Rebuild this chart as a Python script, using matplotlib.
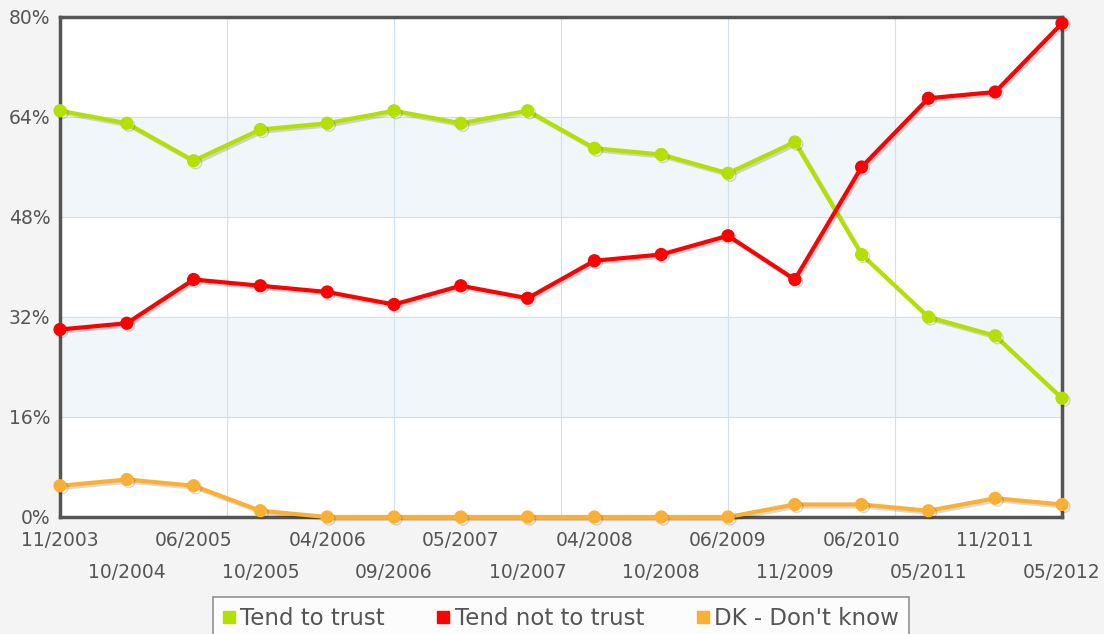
import matplotlib.pyplot as plt
import matplotlib.patheffects as pe

fechas = ['11/2003', '10/2004', '06/2005', '10/2005', '04/2006', '09/2006',
          '05/2007', '10/2007', '04/2008', '10/2008', '06/2009', '11/2009',
          '06/2010', '05/2011', '11/2011', '05/2012']
confia = [65, 63, 57, 62, 63, 65, 63, 65, 59, 58, 55, 60, 42, 32, 29, 19]
no_confia = [30, 31, 38, 37, 36, 34, 37, 35, 41, 42, 45, 38, 56, 67, 68, 79]
no_sabe = [5, 6, 5, 1, 0, 0, 0, 0, 0, 0, 0, 2, 2, 1, 3, 2]

VERDE = '#b4e000'
ROJO = '#ff0000'
NARANJA = '#fbb033'
GRIS = '#555555'

fig = plt.figure(figsize=(11.04, 6.34), dpi=100, facecolor='#f4f4f4')
ax = fig.add_axes([60 / 1104, 117 / 634, 1002 / 1104, 500 / 634])
ax.set_facecolor('white')

x = list(range(len(fechas)))
ax.set_xlim(0, len(fechas) - 1)
ax.set_ylim(0, 80)

# bandas sombreadas
for y0 in (16, 48):
    ax.axhspan(y0, y0 + 16, color='#f1f6fa', zorder=0)
for yy in (16, 32, 48, 64):
    ax.axhline(yy, color='#cfe0ee', lw=0.8, zorder=1)
for xx in (2.5, 5, 7.5, 10, 12.5):
    ax.axvline(xx, color='#cfe0ee', lw=0.8, zorder=1)

sombra = [pe.SimpleLineShadow(offset=(1.5, -1.5), alpha=0.15), pe.Normal()]
series = [(confia, VERDE, 'Tend to trust'),
          (no_confia, ROJO, 'Tend not to trust'),
          (no_sabe, NARANJA, "DK - Don't know")]
for valores, color, nombre in series:
    ax.plot(x, valores, color=color, lw=3, marker='o', ms=8.5, zorder=4,
            clip_on=False, label=nombre, path_effects=sombra)

for s in ax.spines.values():
    s.set_color(GRIS)
    s.set_linewidth(2.5)
    s.set_zorder(3)

ax.set_yticks([0, 16, 32, 48, 64, 80])
ax.set_yticklabels(['0%', '16%', '32%', '48%', '64%', '80%'])
ax.tick_params(axis='y', length=0, pad=7, labelsize=13.5, labelcolor=GRIS)

ax.set_xticks(x[0::2])
ax.set_xticklabels(fechas[0::2])
ax.set_xticks(x[1::2], minor=True)
ax.set_xticklabels(fechas[1::2], minor=True)
ax.tick_params(axis='x', which='major', length=0, pad=10, labelsize=13.5, labelcolor=GRIS)
ax.tick_params(axis='x', which='minor', length=0, pad=33, labelsize=13.5, labelcolor=GRIS)

leg = ax.legend(loc='upper center', bbox_to_anchor=(0.5, -0.16), ncol=3,
                frameon=True, fancybox=False, fontsize=16.5, handlelength=0.5,
                handletextpad=0.25, columnspacing=2.3, borderpad=0.45,
                borderaxespad=0, labelcolor=GRIS)
leg.get_frame().set_edgecolor('#777777')
leg.get_frame().set_linewidth(1.2)
for h, c in zip(leg.legend_handles, [VERDE, ROJO, NARANJA]):
    h.set_linestyle('none')
    h.set_marker('s')
    h.set_markersize(8)
    h.set_color(c)
    h.set_path_effects([])

fig.savefig('out.png', dpi=100, facecolor=fig.get_facecolor())
